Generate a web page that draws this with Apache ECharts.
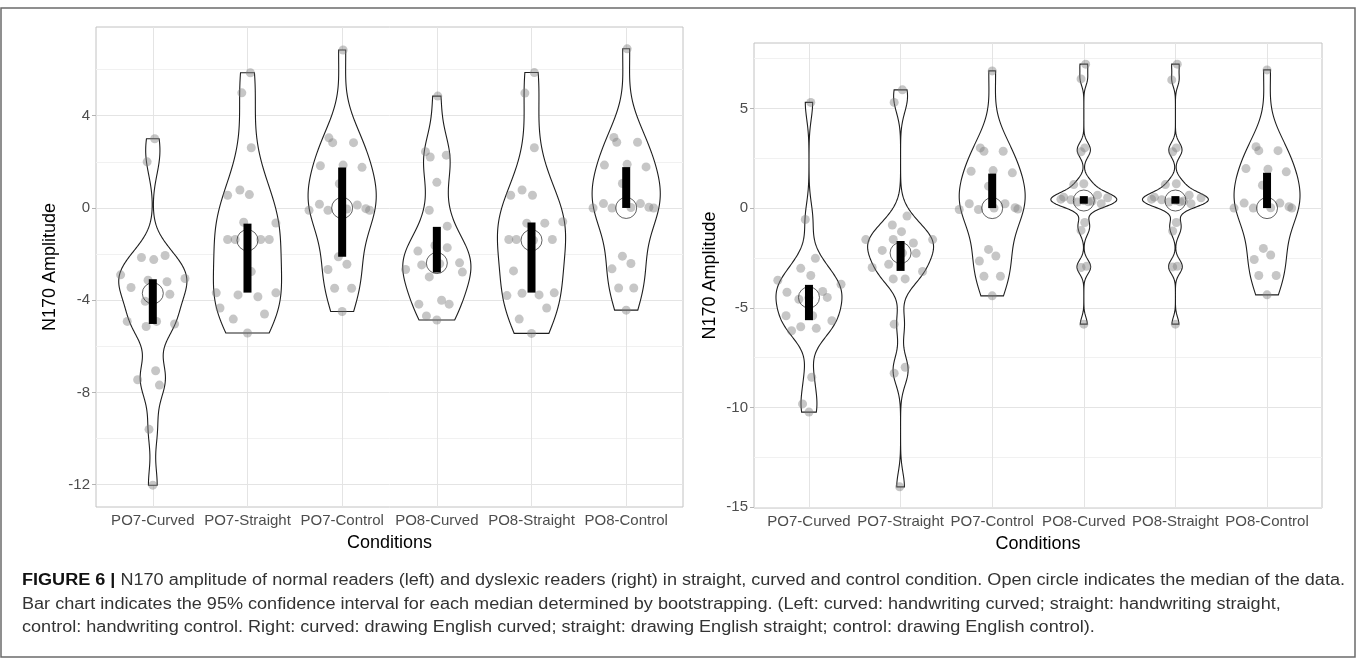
<!DOCTYPE html>
<html>
<head>
<meta charset="utf-8">
<script src="https://cdn.jsdelivr.net/npm/echarts@6/dist/echarts.min.js"></script>
<style>
  html, body { margin: 0; padding: 0; background: #fff; }
  #chart { width: 1360px; height: 666px; }
</style>
</head>
<body>
<div id="chart"></div>
<script>
// ---------- data ----------
const categories = ['PO7-Curved', 'PO7-Straight', 'PO7-Control', 'PO8-Curved', 'PO8-Straight', 'PO8-Control'];

// Normal readers (left panel): N170 amplitude per subject, one list per condition
const normalValues = [
  [3.0, 2.0, -2.15, -2.24, -2.06, -2.9, -3.06, -3.45, -3.2, -3.74, -3.13, -4.05, -4.92, -5.14, -4.92, -5.03, -7.06, -7.45, -7.68, -9.6, -12.02],
  [5.86, 4.99, 2.61, 0.55, 0.78, 0.58, -0.65, -0.62, -1.37, -1.37, -1.37, -1.37, -2.76, -3.68, -3.77, -3.85, -3.68, -4.34, -4.82, -4.6, -5.42],
  [6.85, 3.04, 2.83, 2.83, 1.83, 1.86, 1.76, 1.05, -0.1, 0.16, -0.1, 0.13, -0.03, -0.1, -0.05, -2.12, -2.44, -2.67, -3.48, -3.48, -4.49],
  [4.85, 2.44, 2.21, 2.29, 1.11, -0.1, -0.79, -1.87, -1.63, -1.72, -2.47, -2.99, -2.38, -2.78, -2.67, -4.17, -4.0, -4.17, -4.68, -4.86, -2.42],
  [5.87, 4.98, 2.61, 0.55, 0.78, 0.55, -0.66, -0.66, -0.6, -1.37, -1.37, -1.37, -2.73, -3.8, -3.7, -3.77, -3.68, -4.34, -4.82, -5.44, -1.4],
  [6.9, 3.06, 2.85, 2.85, 1.86, 1.89, 1.78, 1.06, 0.0, 0.19, 0.0, 0.19, 0.03, 0.0, -2.09, -2.41, -2.64, -3.47, -3.47, -4.43, 0.02]
];
// horizontal jitter of each point, in category units
const normalJitter = [
  [0.02, -0.06, -0.12, 0.01, 0.13, -0.34, 0.34, -0.23, 0.15, 0.18, -0.05, -0.08, -0.27, -0.07, 0.04, 0.23, 0.03, -0.16, 0.07, -0.04, 0],
  [0.03, -0.06, 0.04, -0.21, -0.08, 0.02, 0.30, -0.04, -0.21, -0.13, 0.14, 0.23, 0.04, -0.33, -0.10, 0.11, 0.30, -0.29, -0.15, 0.18, 0],
  [0.01, -0.14, -0.10, 0.12, -0.23, 0.01, 0.21, -0.03, -0.35, -0.24, -0.15, 0.16, 0.25, 0.29, 0.05, -0.04, 0.05, -0.15, -0.08, 0.10, 0],
  [0.01, -0.12, -0.07, 0.10, 0, -0.08, 0.11, -0.20, -0.02, 0.11, -0.16, -0.08, 0.24, 0.27, -0.33, -0.19, 0.05, 0.13, -0.11, 0, 0.03],
  [0.03, -0.07, 0.03, -0.22, -0.10, 0.01, -0.05, 0.14, 0.33, -0.24, -0.16, 0.22, -0.19, -0.26, -0.10, 0.08, 0.24, 0.16, -0.13, 0, 0.02],
  [0.01, -0.13, -0.10, 0.12, -0.23, 0.01, 0.21, -0.04, -0.35, -0.24, -0.15, 0.15, 0.24, 0.29, -0.04, 0.05, -0.15, -0.08, 0.08, 0, 0.05]
];
const normalMedian = [-3.7, -1.4, 0.0, -2.39, -1.4, 0.0];
const normalCiLow  = [-5.03, -3.67, -2.12, -2.8, -3.67, 0.0];
const normalCiHigh = [-3.09, -0.68, 1.75, -0.82, -0.63, 1.77];
const normalMajorTicks = [-12, -8, -4, 0, 4];
const normalMinorTicks = [-10, -6, -2, 2, 6];

// Dyslexic readers (right panel)
const dyslexicValues = [
  [5.3, -0.57, -2.52, -3.02, -3.38, -3.62, -3.82, -4.22, -4.18, -4.48, -4.57, -5.4, -5.4, -5.65, -6.15, -5.95, -6.03, -8.48, -9.82, -10.23, -4.5],
  [5.93, 5.3, -0.4, -0.85, -1.18, -1.58, -1.58, -1.57, -1.75, -2.12, -2.27, -2.82, -2.98, -3.18, -3.55, -3.55, -5.82, -8.28, -7.98, -13.98, -2.25],
  [6.88, 3.02, 2.85, 2.85, 1.85, 1.88, 1.77, 1.1, -0.07, 0.22, -0.07, 0.22, 0.02, -0.05, 0.0, -2.07, -2.4, -2.65, -3.42, -3.42, -4.4],
  [7.22, 6.48, 3.02, 2.82, 1.22, 1.18, 0.55, 0.42, 0.65, 0.52, 0.22, 0.45, 0.38, 0.35, 0.3, 0.32, -0.72, -1.12, -2.98, -2.92, -5.82],
  [7.22, 6.43, 3.02, 2.82, 1.22, 1.18, 0.55, 0.42, 0.65, 0.52, 0.22, 0.45, 0.38, 0.35, 0.3, 0.32, -0.72, -1.15, -2.95, -2.92, -5.82],
  [6.93, 3.08, 2.88, 2.88, 1.98, 1.95, 1.82, 1.15, 0.0, 0.25, 0.0, 0.25, 0.07, 0.0, 0.02, -2.02, -2.35, -2.58, -3.38, -3.38, -4.35]
];
const dyslexicJitter = [
  [0.02, -0.04, 0.07, -0.09, 0.02, -0.34, 0.35, -0.24, 0.15, 0.20, -0.11, -0.25, 0.04, 0.25, -0.19, -0.09, 0.08, 0.03, -0.07, 0, 0],
  [0.02, -0.07, 0.07, -0.09, 0.01, -0.38, 0.35, -0.08, 0.14, -0.20, 0.17, -0.13, -0.31, 0.24, -0.08, 0.05, -0.07, -0.07, 0.05, -0.01, 0.02],
  [0, -0.13, -0.09, 0.12, -0.23, 0.01, 0.22, -0.04, -0.36, -0.25, -0.15, 0.14, 0.25, 0.28, 0.02, -0.04, 0.04, -0.14, -0.09, 0.09, 0],
  [0.02, -0.03, 0.01, -0.03, 0, -0.11, -0.22, -0.14, 0.15, 0.26, 0.19, -0.25, 0, 0.09, -0.07, 0.05, 0.01, -0.03, -0.03, 0.03, 0],
  [0.02, -0.04, 0.01, -0.03, 0.01, -0.11, -0.23, -0.15, 0.15, 0.28, 0.17, -0.26, 0, 0.09, -0.07, 0.05, 0.01, -0.03, -0.03, 0.02, 0],
  [0, -0.12, -0.09, 0.12, -0.23, 0.01, 0.21, -0.05, -0.36, -0.25, -0.15, 0.14, 0.24, 0.27, 0.04, -0.04, 0.04, -0.14, -0.09, 0.10, 0]
];
const dyslexicMedian = [-4.48, -2.25, 0.0, 0.38, 0.38, 0.0];
const dyslexicCiLow  = [-5.62, -3.15, 0.0, 0.22, 0.22, 0.0];
const dyslexicCiHigh = [-3.85, -1.65, 1.73, 0.6, 0.6, 1.77];
const dyslexicMajorTicks = [-15, -10, -5, 0, 5];
const dyslexicMinorTicks = [-12.5, -7.5, -2.5, 2.5, 7.5];

const captionLines = [
  'N170 amplitude of normal readers (left) and dyslexic readers (right) in straight, curved and control condition. Open circle indicates the median of the data.',
  'Bar chart indicates the 95% confidence interval for each median determined by bootstrapping. (Left: curved: handwriting curved; straight: handwriting straight,',
  'control: handwriting control. Right: curved: drawing English curved; straight: drawing English straight; control: drawing English control).'
];
const captionLabel = 'FIGURE 6 |';

// ---------- helpers ----------
const FONT = "'Liberation Sans', Arial, Helvetica, sans-serif";
const VIOLIN_HALF_WIDTH = 0.36;   // category units

function quantile(sorted, p) {
  const h = (sorted.length - 1) * p;
  const lo = Math.floor(h);
  const hi = Math.min(lo + 1, sorted.length - 1);
  return sorted[lo] + (h - lo) * (sorted[hi] - sorted[lo]);
}
// Silverman's rule of thumb (R's bw.nrd0)
function bandwidth(sorted) {
  const n = sorted.length;
  const mean = sorted.reduce((a, b) => a + b, 0) / n;
  const sd = Math.sqrt(sorted.reduce((a, b) => a + (b - mean) * (b - mean), 0) / (n - 1));
  const iqr = quantile(sorted, 0.75) - quantile(sorted, 0.25);
  let lo = Math.min(sd, iqr / 1.34);
  if (!(lo > 0)) lo = sd || 1;
  return 0.9 * lo * Math.pow(n, -0.2);
}
// Gaussian kernel density, trimmed to the data range, scaled to a fixed max width
function violinOutline(values, center) {
  const s = values.slice().sort((a, b) => a - b);
  const bw = bandwidth(s);
  const lo = s[0], hi = s[s.length - 1];
  const N = 300;
  const ys = [], ds = [];
  for (let i = 0; i < N; i++) {
    const y = lo + (hi - lo) * i / (N - 1);
    let d = 0;
    for (const v of s) { const z = (y - v) / bw; d += Math.exp(-0.5 * z * z); }
    ys.push(y); ds.push(d);
  }
  const maxD = Math.max(...ds);
  const right = ys.map((y, i) => [center + VIOLIN_HALF_WIDTH * ds[i] / maxD, y]);
  const left = ys.map((y, i) => [center - VIOLIN_HALF_WIDTH * ds[i] / maxD, y]).reverse();
  return right.concat(left);
}
function paddedRange(groups) {
  const all = [].concat(...groups);
  const mn = Math.min(...all), mx = Math.max(...all);
  const pad = (mx - mn) * 0.05;
  return [mn - pad, mx + pad];
}

const tickPositions = categories.map((c, i) => i + 1);
const labelStyle = { fontFamily: FONT, fontSize: 15, color: '#4d4d4d' };
const titleStyle = { fontFamily: FONT, fontSize: 18, color: '#000' };

const grids = [
  { left: 96, top: 27, width: 587, height: 480 },
  { left: 754, top: 43, width: 568, height: 465 }
];
const panels = [
  { values: normalValues, jitter: normalJitter, median: normalMedian, ciLow: normalCiLow, ciHigh: normalCiHigh, major: normalMajorTicks, minor: normalMinorTicks, nameGap: 37 },
  { values: dyslexicValues, jitter: dyslexicJitter, median: dyslexicMedian, ciLow: dyslexicCiLow, ciHigh: dyslexicCiHigh, major: dyslexicMajorTicks, minor: dyslexicMinorTicks, nameGap: 35 }
];

const xAxis = [], yAxis = [], series = [];
panels.forEach((p, i) => {
  const range = paddedRange(p.values);
  xAxis.push({
    type: 'value', gridIndex: i, min: 0.4, max: 6.6,
    axisLine: { show: false },
    axisTick: { show: true, customValues: tickPositions, length: 4, lineStyle: { color: '#b3b3b3' } },
    axisLabel: { customValues: tickPositions, margin: 6, formatter: v => categories[Math.round(v) - 1], ...labelStyle },
    splitLine: { show: true, lineStyle: { color: '#e4e4e4', width: 1 } },
    name: 'Conditions', nameLocation: 'middle', nameGap: 27, nameTextStyle: titleStyle
  });
  yAxis.push({
    type: 'value', gridIndex: i, min: range[0], max: range[1],
    axisLine: { show: false },
    axisTick: { show: true, customValues: p.major, length: 4, lineStyle: { color: '#b3b3b3' } },
    axisLabel: { customValues: p.major, margin: 6, ...labelStyle },
    splitLine: { show: true, lineStyle: { color: '#e4e4e4', width: 1 } },
    name: 'N170 Amplitude', nameLocation: 'middle', nameGap: p.nameGap, nameTextStyle: titleStyle
  });
  yAxis.push({
    type: 'value', gridIndex: i, min: range[0], max: range[1],
    axisLine: { show: false },
    axisTick: { show: false, customValues: p.minor },
    axisLabel: { show: false },
    splitLine: { show: true, lineStyle: { color: '#f1f1f1', width: 1 } }
  });

  const outlines = p.values.map((vals, g) => violinOutline(vals, g + 1));
  const axisRef = { xAxisIndex: i, yAxisIndex: 2 * i };

  series.push({
    type: 'custom', ...axisRef, z: 2, silent: true,
    data: p.median.map((m, g) => [g + 1, m]),
    renderItem: (params, api) => ({
      type: 'polygon',
      shape: { points: outlines[params.dataIndex].map(pt => api.coord(pt)) },
      style: { fill: '#fff', stroke: '#1e1e1e', lineWidth: 1.1 }
    })
  });

  const pts = [];
  p.values.forEach((vals, g) => vals.forEach((v, k) => pts.push([g + 1 + p.jitter[g][k], v])));
  series.push({
    type: 'scatter', ...axisRef, z: 3, silent: true,
    data: pts, symbolSize: 9,
    itemStyle: { color: 'rgba(125,125,125,0.55)' }
  });

  series.push({
    type: 'scatter', ...axisRef, z: 4, silent: true,
    data: p.median.map((m, g) => [g + 1, m]), symbolSize: 21,
    itemStyle: { color: 'rgba(0,0,0,0)', borderColor: '#3a3a3a', borderWidth: 1 }
  });

  series.push({
    type: 'custom', ...axisRef, z: 5, silent: true,
    data: p.ciLow.map((lo, g) => [g + 1, lo, p.ciHigh[g]]),
    renderItem: (params, api) => {
      const top = api.coord([api.value(0), api.value(2)]);
      const bot = api.coord([api.value(0), api.value(1)]);
      return { type: 'rect', shape: { x: top[0] - 4, y: top[1], width: 8, height: bot[1] - top[1] }, style: { fill: '#000' } };
    }
  });
});

// caption, stretched to the measured line length
const CAPTION_SIZE = 16;
const ctx = document.createElement('canvas').getContext('2d');
ctx.font = `bold ${CAPTION_SIZE}px ${FONT}`;
const boldW = ctx.measureText(captionLabel).width;
ctx.font = `${CAPTION_SIZE}px ${FONT}`;
const restW = ctx.measureText(' ' + captionLines[0]).width;
const captionScale = (1345 - 22) / (boldW + restW);
const captionY = [581, 605, 628];

const graphic = [
  { type: 'rect', silent: true, shape: { x: 1, y: 8, width: 1354, height: 649 }, style: { fill: 'none', stroke: '#6b6b6b', lineWidth: 1.5 } }
];
captionLines.forEach((line, i) => {
  graphic.push({
    type: 'text', silent: true, x: 22, y: captionY[i], scaleX: captionScale,
    style: {
      text: i === 0 ? `{b|${captionLabel}} ${line}` : line,
      fontFamily: FONT, fontSize: CAPTION_SIZE, fill: '#333', verticalAlign: 'middle',
      rich: { b: { fontFamily: FONT, fontSize: CAPTION_SIZE, fontWeight: 'bold', fill: '#111' } }
    }
  });
});

const chart = echarts.init(document.getElementById('chart'), null, { renderer: 'canvas' });
chart.setOption({
  animation: false,
  backgroundColor: '#fff',
  grid: grids.map(g => ({ ...g, show: true, borderColor: '#c2c2c2', borderWidth: 1, backgroundColor: '#fff' })),
  xAxis, yAxis, series, graphic
});
</script>
</body>
</html>
